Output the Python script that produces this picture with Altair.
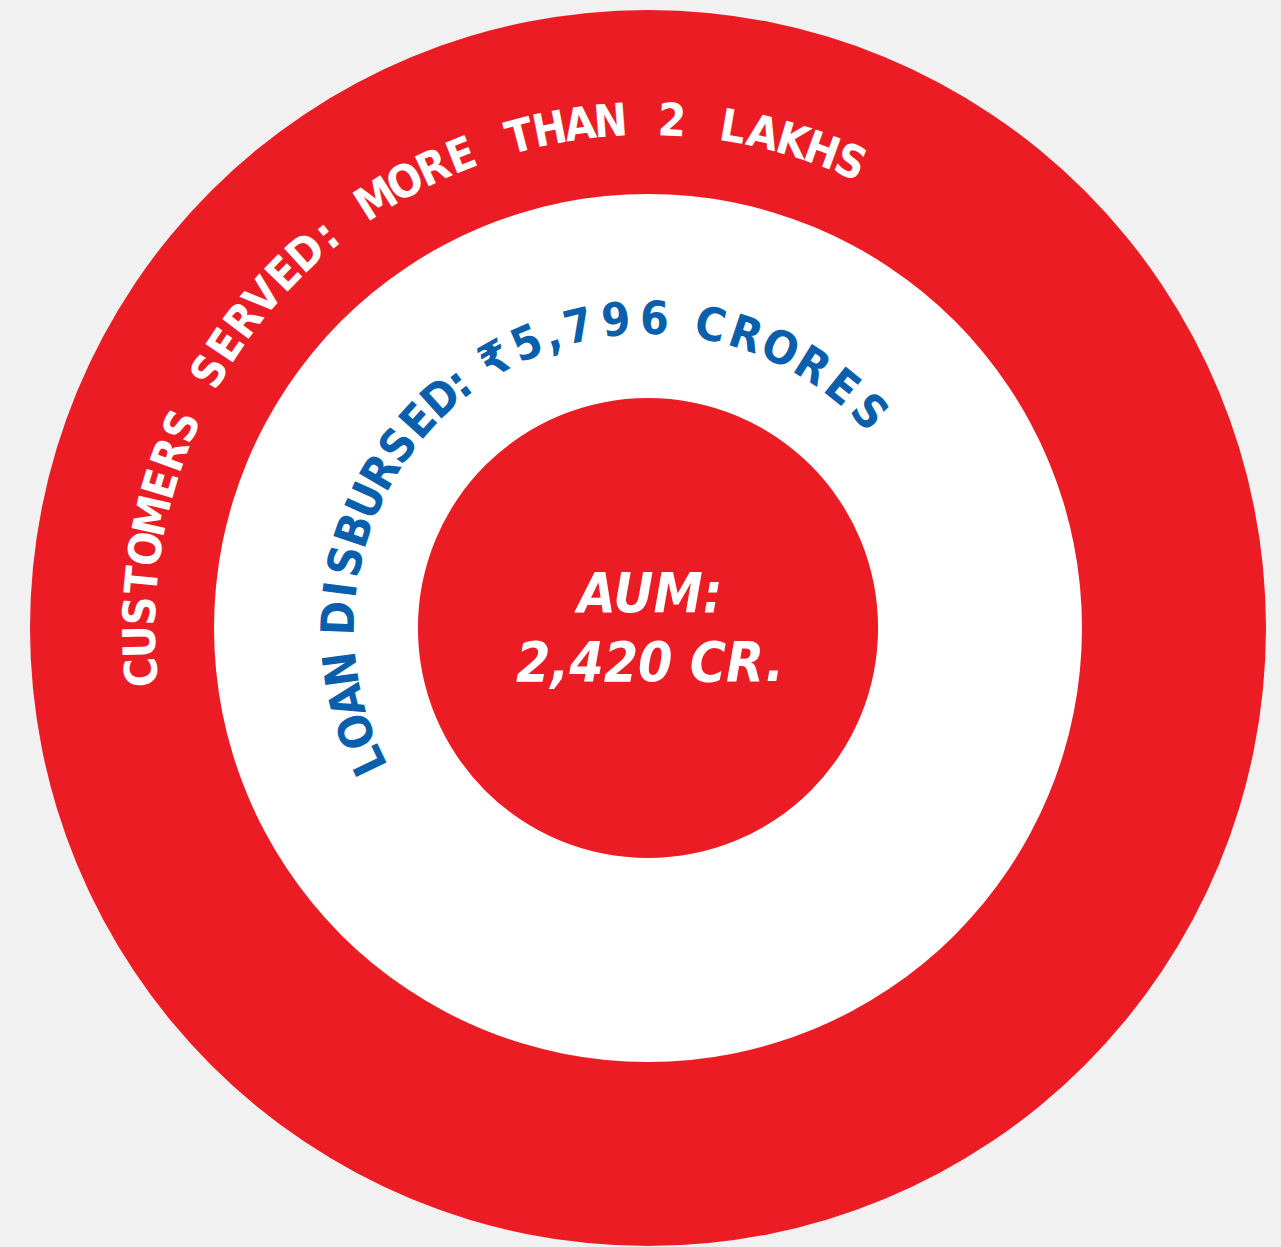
import altair as alt
import pandas as pd
import numpy as np

# ---- data -------------------------------------------------------------
ring_names = ["outer", "ring", "core"]
ring_radius = [618, 434, 230]
ring_colors = ["#ec1c24", "#ffffff", "#ec1c24"]

outer_label = "CUSTOMERS SERVED: MORE THAN 2 LAKHS"
inner_label = "LOAN DISBURSED: ₹5,796 CRORES"
center_lines = ["AUM:", "2,420 CR."]

# ---- layout (arc placement of the curved labels) -----------------------
CX, CY = 648, 628
FONT = "DejaVu Sans Condensed, DejaVu Sans, sans-serif"
RED = "#ec1c24"
BLUE = "#0a5fac"
WHITE = "#ffffff"

outer_arc = dict(radius=507, start=-95.0, end=23.5)
inner_arc = dict(radius=308, start=-115.4, end=45.7)

outer_narrow = {"M": 1.15, "O": 1.05, ":": 0.8}
inner_narrow = {" ": 0.6, ":": 0.5, ",": 0.5, "I": 0.8}
inner_word_scale = [1.0, 1.0, 1.0, 1.15]


def advances(label, narrow=None, word_scale=None, digit_w=None):
    out = []
    word = 0
    for ch in label:
        w = (narrow or {}).get(ch, 1.0)
        if ch == " ":
            word += 1
            out.append(w)
            continue
        if digit_w is not None and ch.isdigit():
            w = digit_w
        if word_scale:
            w *= word_scale[word]
        out.append(w)
    return out


def arc_rows(label, adv, arc, color):
    adv = np.array(adv, dtype=float)
    centers = np.cumsum(adv) - adv / 2
    t = (centers - centers[0]) / (centers[-1] - centers[0])
    deg = arc["start"] + t * (arc["end"] - arc["start"])
    deg = np.mod(deg, 360.0)
    return pd.DataFrame({
        "ch": list(label),
        "theta": deg,
        "r": arc["radius"],
        "color": color,
    })


outer_df = arc_rows(outer_label, advances(outer_label, outer_narrow), outer_arc, WHITE)
inner_df = arc_rows(
    inner_label,
    advances(inner_label, inner_narrow, inner_word_scale, digit_w=1.2),
    inner_arc,
    BLUE,
)
inner_df = inner_df[inner_df["ch"] != " "]
outer_df = outer_df[outer_df["ch"] != " "]

rings_df = pd.DataFrame({"name": ring_names, "r": ring_radius, "color": ring_colors})
center_df = pd.DataFrame({"label": center_lines, "line": [0, 1]})

r_scale = alt.Scale(type="linear", domain=[0, 618], range=[0, 618])
t_scale = alt.Scale(domain=[0, 360], range=[0, 2 * np.pi])

rings = alt.Chart(rings_df).mark_arc().encode(
    theta=alt.value(0),
    theta2=alt.value(2 * np.pi),
    radius=alt.Radius("r:Q", scale=r_scale, stack=False),
    color=alt.Color("color:N", scale=None),
    order=alt.Order("r:Q", sort="descending"),
    x=alt.value(CX),
    y=alt.value(CY),
)


def curved(df, size):
    return alt.Chart(df).mark_text(
        font=FONT, fontWeight="bold", fontSize=size,
        align="center", baseline="middle",
    ).encode(
        theta=alt.Theta("theta:Q", scale=t_scale, stack=False),
        radius=alt.Radius("r:Q", scale=r_scale, stack=False),
        angle=alt.Angle("theta:Q", scale=None),
        text="ch:N",
        color=alt.Color("color:N", scale=None),
        x=alt.value(CX),
        y=alt.value(CY),
    )


outer_text = curved(outer_df, 45)
inner_text = curved(inner_df, 46)

center_text = alt.Chart(center_df).mark_text(
    font=FONT, fontWeight="bold", fontStyle="italic", fontSize=55,
    align="center", baseline="middle", color=WHITE,
).encode(
    text="label:N",
    x=alt.value(650),
    y=alt.Y("line:O", scale=alt.Scale(type="point", domain=[0, 1], range=[595, 664], padding=0), axis=None),
)

chart = alt.layer(rings, outer_text, inner_text, center_text).properties(
    width=1281, height=1247, background="#f1f1f1", padding=0,
    autosize=alt.AutoSizeParams(type="none"),
).configure_view(strokeWidth=0)

chart.save("out.html", embed_options={"renderer": "svg", "actions": False})
